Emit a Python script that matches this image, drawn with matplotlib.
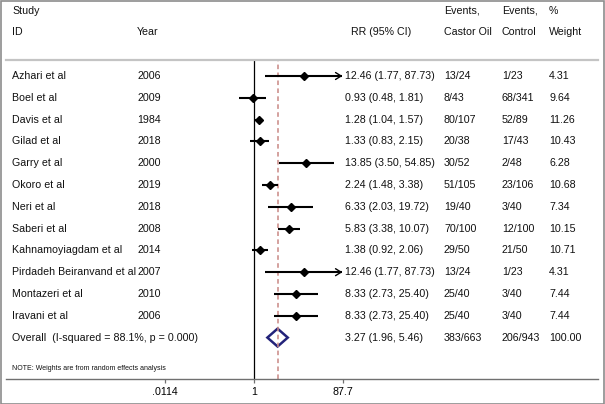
import numpy as np
import matplotlib
matplotlib.use("Agg")
from matplotlib import pyplot as plt
from matplotlib import transforms
from matplotlib.lines import Line2D
from matplotlib.patches import Rectangle, Polygon

plt.rcParams['font.family'] = ['Liberation Sans', 'DejaVu Sans']

# study data
names = ['Azhari et al', 'Boel et al', 'Davis et al', 'Gilad et al', 'Garry et al',
         'Okoro et al', 'Neri et al', 'Saberi et al', 'Kahnamoyiagdam et al',
         'Pirdadeh Beiranvand et al', 'Montazeri et al', 'Iravani et al']
years = [2006, 2009, 1984, 2018, 2000, 2019, 2018, 2008, 2014, 2007, 2010, 2006]
rr = [12.46, 0.93, 1.28, 1.33, 13.85, 2.24, 6.33, 5.83, 1.38, 12.46, 8.33, 8.33]
lo = [1.77, 0.48, 1.04, 0.83, 3.50, 1.48, 2.03, 3.38, 0.92, 1.77, 2.73, 2.73]
hi = [87.73, 1.81, 1.57, 2.15, 54.85, 3.38, 19.72, 10.07, 2.06, 87.73, 25.40, 25.40]
castor = ['13/24', '8/43', '80/107', '20/38', '30/52', '51/105', '19/40', '70/100',
          '29/50', '13/24', '25/40', '25/40']
control = ['1/23', '68/341', '52/89', '17/43', '2/48', '23/106', '3/40', '12/100',
           '21/50', '1/23', '3/40', '3/40']
weight = [4.31, 9.64, 11.26, 10.43, 6.28, 10.68, 7.34, 10.15, 10.71, 4.31, 7.44, 7.44]

# pooled estimate
overall_rr, overall_lo, overall_hi = 3.27, 1.96, 5.46
overall_castor, overall_control, overall_weight = '383/663', '206/943', 100.00
overall_label = 'Overall  (I-squared = 88.1%, p = 0.000)'

xticks = [0.0114, 1, 87.7]
xticklabels = ['.0114', '1', '87.7']
xmin, xmax = 1 / 87.7, 87.7

W, H = 605, 404
fs = 7.7


def fx(px):
    return px / W


def fy(py):
    return 1 - py / H


fig = plt.figure(figsize=(W / 100, H / 100), dpi=100)

# plot region: x from .0114 to 87.7, y from header rule down to axis line
ax = fig.add_axes([fx(165), fy(379), fx(343) - fx(165), fy(60) - fy(379)])
ax.set_xscale('log')
ax.set_xlim(xmin, xmax)
ax.set_ylim(13.9, -0.734)
for s in ax.spines.values():
    s.set_visible(False)
ax.set_yticks([])
ax.set_xticks(xticks)
ax.set_xticklabels(xticklabels)
ax.xaxis.set_minor_locator(matplotlib.ticker.NullLocator())
ax.tick_params(axis='x', length=3, width=0.9, color='#707070', labelsize=fs, pad=3)
ax.patch.set_alpha(0)

ax.axvline(1, color='black', lw=0.9)
ax.axvline(overall_rr, color='#c98784', lw=1.1, ls=(0, (3, 2.2)))

rows = np.arange(len(names))
for i in rows:
    if hi[i] > xmax:
        # CI runs off the scale: line to the edge plus an open arrow head
        tip = xmax * 0.97
        ax.plot([lo[i], tip], [i, i], color='black', lw=1.5, solid_capstyle='butt')
        ax.annotate('', xy=(tip, i), xytext=(tip * 0.8, i),
                    arrowprops=dict(arrowstyle='->,head_length=0.4,head_width=0.25',
                                    lw=1.0, color='black', shrinkA=0, shrinkB=0))
    else:
        ax.plot([lo[i], hi[i]], [i, i], color='black', lw=1.5,
                solid_capstyle='butt')
ax.plot(rr, rows, ls='none', marker='D', ms=4.0, color='black')

oy = len(names)
dh = 0.41
ax.add_patch(Polygon([(overall_lo, oy), (overall_rr, oy - dh),
                      (overall_hi, oy), (overall_rr, oy + dh)],
                     closed=True, fill=False, edgecolor='#23237a', lw=1.8))

# text columns
tr = transforms.blended_transform_factory(fig.transFigure, ax.transData)
col_x = {'name': fx(12), 'year': fx(137), 'rr': fx(345), 'castor': fx(444),
         'control': fx(502), 'weight': fx(549)}


def put(x, y, s, **kw):
    ax.text(x, y, s, transform=tr, ha='left', va='center', fontsize=kw.pop('size', fs),
            clip_on=False, color='#111111', **kw)


put(col_x['name'], -3, 'Study')
put(col_x['name'], -2, 'ID')
put(col_x['year'], -2, 'Year')
put(fx(351), -2, 'RR (95% CI)')
put(col_x['castor'], -3, 'Events,')
put(col_x['castor'], -2, 'Castor Oil')
put(col_x['control'], -3, 'Events,')
put(col_x['control'], -2, 'Control')
put(col_x['weight'], -3, '%')
put(col_x['weight'], -2, 'Weight')

for i in rows:
    put(col_x['name'], i, names[i])
    put(col_x['year'], i, str(years[i]))
    put(col_x['rr'], i, f'{rr[i]:.2f} ({lo[i]:.2f}, {hi[i]:.2f})')
    put(col_x['castor'], i, castor[i])
    put(col_x['control'], i, control[i])
    put(col_x['weight'], i, f'{weight[i]:.2f}')

put(col_x['name'], oy, overall_label)
put(col_x['rr'], oy, f'{overall_rr:.2f} ({overall_lo:.2f}, {overall_hi:.2f})')
put(col_x['castor'], oy, overall_castor)
put(col_x['control'], oy, overall_control)
put(col_x['weight'], oy, f'{overall_weight:.2f}')
put(col_x['name'], 13.44, 'NOTE: Weights are from random effects analysis', size=5.0)

# rules and frame
fig.add_artist(Line2D([fx(6), fx(598)], [fy(60), fy(60)], color='#c4c4c4', lw=1.6))
fig.add_artist(Line2D([fx(6), fx(598)], [fy(379), fy(379)], color='#707070', lw=1.0))
fig.add_artist(Rectangle((0.001, 0.001), 0.997, 0.996, transform=fig.transFigure,
                         fill=False, edgecolor='#8c8c8c', lw=1.2))

fig.savefig('out.png', dpi=100)
